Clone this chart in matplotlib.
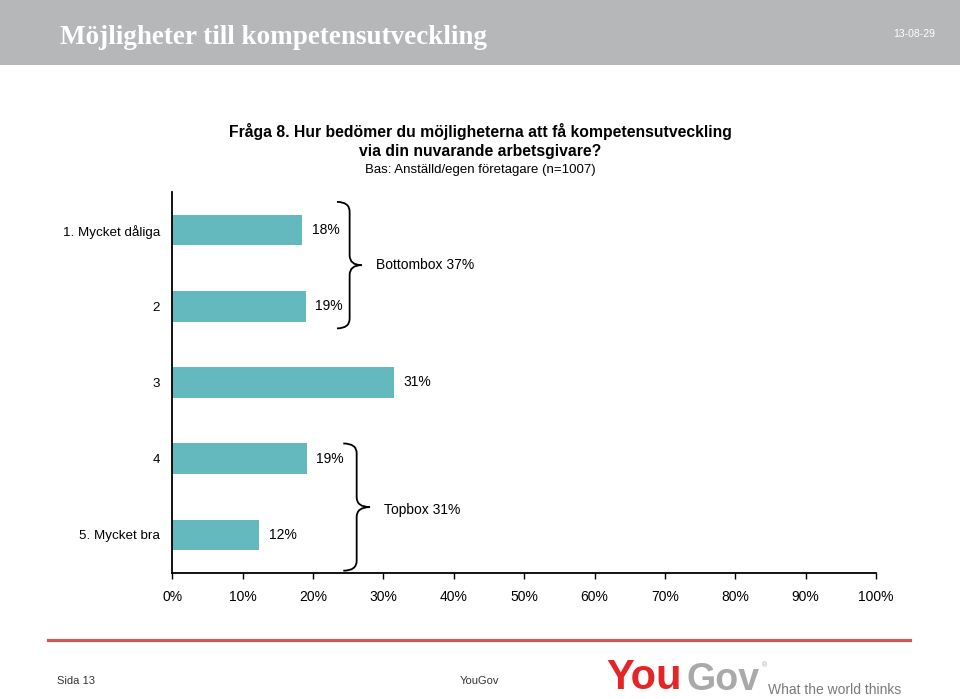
import numpy as np
import matplotlib
matplotlib.use('Agg')
import matplotlib.pyplot as plt
from matplotlib.path import Path
from matplotlib.patches import PathPatch, Rectangle

# ---------------------------
# Data
# ---------------------------
categories = ['1. Mycket dåliga', '2', '3', '4', '5. Mycket bra']
values = [18.4, 18.95, 31.5, 19.1, 12.35]
value_labels = ['18%', '19%', '31%', '19%', '12%']
x_ticks = [0, 10, 20, 30, 40, 50, 60, 70, 80, 90, 100]
x_tick_labels = [f'{t}%' for t in x_ticks]

bottombox_label = 'Bottombox 37%'
topbox_label = 'Topbox 31%'

header_title = 'Möjligheter till kompetensutveckling'
header_date = '13-08-29'
question = ('Fråga 8. Hur bedömer du möjligheterna att få kompetensutveckling\n'
            'via din nuvarande arbetsgivare?')
base_text = 'Bas: Anställd/egen företagare (n=1007)'

BAR_COLOR = '#63b9bd'
W, H = 960, 699

plt.rcParams['font.family'] = ['Liberation Sans', 'DejaVu Sans']


def fx(x):
    return x / W


def fy(y):
    return 1 - y / H


def brace(ax, x, y0, y1, curl, tip, lw=1.3):
    # vertical curly brace opening to the left, tip pointing right
    ym = (y0 + y1) / 2
    r = 0.13
    verts = [
        (curl, y0),
        (x, y0), (x, y0 + r),
        (x, ym - r),
        (x, ym), (tip, ym),
        (x, ym), (x, ym + r),
        (x, y1 - r),
        (x, y1), (curl, y1),
    ]
    codes = [Path.MOVETO,
             Path.CURVE3, Path.CURVE3,
             Path.LINETO,
             Path.CURVE3, Path.CURVE3,
             Path.CURVE3, Path.CURVE3,
             Path.LINETO,
             Path.CURVE3, Path.CURVE3]
    ax.add_patch(PathPatch(Path(verts, codes), fill=False, lw=lw,
                           edgecolor='black', clip_on=False))


fig = plt.figure(figsize=(W / 100, H / 100), dpi=100)

# header band
fig.patches.append(Rectangle((0, fy(65)), 1, 65 / H, transform=fig.transFigure,
                             facecolor='#b6b7b9', edgecolor='none', zorder=0))
fig.text(fx(60), fy(37), header_title, color='white', fontsize=19.5,
         fontweight='bold', family=['Liberation Serif', 'DejaVu Serif'],
         ha='left', va='center')
fig.text(fx(935), fy(34), header_date, color='white', fontsize=7.5,
         ha='right', va='center')

# question
fig.text(fx(480), fy(141), question, fontsize=11.3, fontweight='bold',
         ha='center', va='center', multialignment='center', linespacing=1.3)
fig.text(fx(480), fy(170), base_text, fontsize=9.5, ha='center', va='center')

# chart
ax = fig.add_axes([fx(172.3), fy(573), (876 - 172.3) / W, (573 - 192) / H])
ypos = np.arange(len(categories))
ax.barh(ypos, values, height=0.4, color=BAR_COLOR)
ax.set_ylim(len(categories) - 0.5, -0.5)
ax.set_xlim(0, 100)
ax.set_yticks(ypos)
ax.set_yticklabels(categories, fontsize=9.6)
ax.tick_params(axis='y', length=0, pad=9)
ax.set_xticks(x_ticks)
ax.set_xticklabels(x_tick_labels, fontsize=10)
ax.tick_params(axis='x', length=4, width=1, pad=8, direction='out')
for s in ['top', 'right']:
    ax.spines[s].set_visible(False)
ax.spines['left'].set_linewidth(1.3)
ax.spines['bottom'].set_linewidth(1.3)

for yv, v, lab in zip(ypos, values, value_labels):
    ax.annotate(lab, (v, yv), xytext=(7, 0), textcoords='offset points',
                ha='left', va='center', fontsize=10)

# brackets
brace(ax, 25.2, -0.37, 1.29, 23.4, 26.9)
ax.text(29.0, 0.46, bottombox_label, fontsize=10, ha='left', va='center')
brace(ax, 26.2, 2.80, 4.47, 24.3, 28.1)
ax.text(30.1, 3.67, topbox_label, fontsize=10, ha='left', va='center')

# footer
fig.lines.append(plt.Line2D([fx(48), fx(910)], [fy(640), fy(640)],
                            transform=fig.transFigure, color='#d25858', lw=2.3))
fig.text(fx(57), fy(681), 'Sida 13', fontsize=8, color='#333333',
         ha='left', va='center')
fig.text(fx(460), fy(681), 'YouGov', fontsize=8, color='#333333',
         ha='left', va='center')
fig.text(fx(606), fy(698), 'You', fontsize=30, fontweight='bold',
         color='#e42528', ha='left', va='bottom')
fig.text(fx(686), fy(698), 'Gov', fontsize=27, fontweight='bold',
         color='#a9a9a9', ha='left', va='bottom')
fig.text(fx(762), fy(666), '®', fontsize=5, color='#a9a9a9',
         ha='left', va='center')
fig.text(fx(768), fy(694), 'What the world thinks', fontsize=10,
         color='#7a7a7a', ha='left', va='baseline')

fig.savefig('out.png', dpi=100)
